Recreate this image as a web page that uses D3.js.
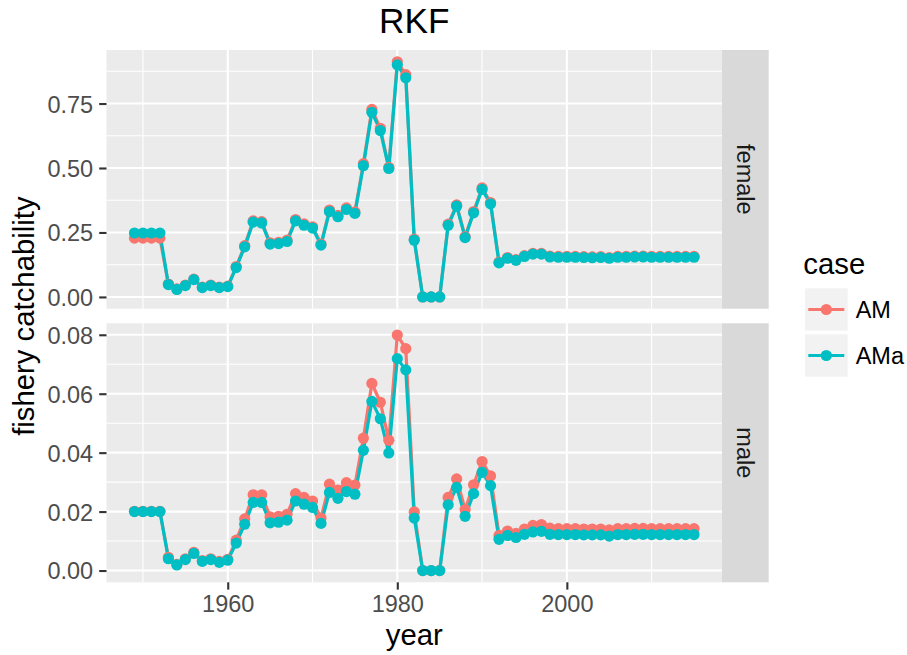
<!DOCTYPE html>
<html>
<head>
<meta charset="utf-8">
<script src="https://cdn.jsdelivr.net/npm/d3@7"></script>
<style>
  html, body { margin: 0; padding: 0; background: #fff; }
  svg { display: block; font-family: "Liberation Sans", Arial, sans-serif; }
</style>
</head>
<body>
<svg id="chart" width="907" height="655"></svg>
<script>
const years = [1949,1950,1951,1952,1953,1954,1955,1956,1957,1958,1959,1960,1961,1962,1963,1964,1965,1966,1967,1968,1969,1970,1971,1972,1973,1974,1975,1976,1977,1978,1979,1980,1981,1982,1983,1984,1985,1986,1987,1988,1989,1990,1991,1992,1993,1994,1995,1996,1997,1998,1999,2000,2001,2002,2003,2004,2005,2006,2007,2008,2009,2010,2011,2012,2013,2014,2015];

const femaleAM = [0.228,0.228,0.228,0.228,0.050,0.031,0.046,0.069,0.038,0.046,0.038,0.042,0.118,0.199,0.295,0.292,0.210,0.212,0.220,0.300,0.283,0.272,0.205,0.337,0.316,0.345,0.330,0.517,0.727,0.654,0.503,0.912,0.862,0.224,0,0,0,0.282,0.357,0.234,0.331,0.423,0.366,0.135,0.153,0.145,0.160,0.169,0.169,0.158,0.157,0.157,0.157,0.156,0.155,0.156,0.153,0.157,0.157,0.158,0.158,0.157,0.157,0.157,0.157,0.157,0.157];
const femaleAMa = [0.248,0.248,0.248,0.248,0.048,0.029,0.044,0.067,0.036,0.044,0.036,0.040,0.114,0.194,0.290,0.287,0.205,0.207,0.215,0.295,0.278,0.267,0.201,0.331,0.311,0.339,0.324,0.509,0.716,0.645,0.498,0.900,0.850,0.220,0,0,0,0.278,0.352,0.230,0.326,0.417,0.361,0.132,0.150,0.142,0.157,0.166,0.166,0.155,0.154,0.154,0.154,0.153,0.152,0.153,0.150,0.154,0.154,0.155,0.155,0.154,0.154,0.154,0.154,0.154,0.154];

const maleAM = [0.0201,0.0201,0.0201,0.0201,0.0045,0.0021,0.0040,0.0062,0.0034,0.0040,0.0031,0.0038,0.0103,0.0175,0.0257,0.0257,0.0182,0.0184,0.0191,0.0261,0.0248,0.0236,0.0178,0.0293,0.0273,0.0298,0.0290,0.0449,0.0635,0.0571,0.0442,0.0799,0.0753,0.0199,0,0,0,0.0248,0.0311,0.0207,0.0291,0.0370,0.0321,0.0119,0.0134,0.0126,0.0141,0.0153,0.0156,0.0144,0.0142,0.0142,0.0142,0.0141,0.0141,0.0141,0.0138,0.0142,0.0142,0.0143,0.0143,0.0142,0.0142,0.0142,0.0142,0.0142,0.0142];
const maleAMa = [0.0200,0.0200,0.0200,0.0200,0.0040,0.0019,0.0037,0.0058,0.0031,0.0037,0.0028,0.0035,0.0093,0.0157,0.0231,0.0231,0.0162,0.0164,0.0171,0.0236,0.0225,0.0214,0.0160,0.0265,0.0245,0.0268,0.0259,0.0408,0.0574,0.0515,0.0399,0.0719,0.0681,0.0178,0,0,0,0.0223,0.0282,0.0184,0.0261,0.0333,0.0288,0.0106,0.0119,0.0112,0.0123,0.0131,0.0133,0.0123,0.0122,0.0122,0.0122,0.0121,0.0121,0.0121,0.0117,0.0122,0.0122,0.0123,0.0123,0.0122,0.0122,0.0122,0.0122,0.0122,0.0122];

const caseNames = ["AM", "AMa"];
const caseColors = ["#F8766D", "#00BFC4"];
const facetNames = ["female", "male"];
const xTicks = [1960, 1980, 2000];
const xMinor = [1950, 1970, 1990, 2010];
const yTicksFemale = [0, 0.25, 0.5, 0.75];
const yMinorFemale = [0.125, 0.375, 0.625, 0.875];
const yTicksMale = [0, 0.02, 0.04, 0.06, 0.08];
const yMinorMale = [0.01, 0.03, 0.05, 0.07];
const yLabelsFemale = ["0.00", "0.25", "0.50", "0.75"];
const yLabelsMale = ["0.00", "0.02", "0.04", "0.06", "0.08"];

const svg = d3.select("#chart");
const L = 106.5, R = 722, stripW = 46.7;
const panels = [
  { name: facetNames[0], top: 50, bottom: 308.7, series: [femaleAM, femaleAMa], ticks: yTicksFemale, minor: yMinorFemale, labels: yLabelsFemale },
  { name: facetNames[1], top: 323.3, bottom: 582.3, series: [maleAM, maleAMa], ticks: yTicksMale, minor: yMinorMale, labels: yLabelsMale }
];

const xPad = (d3.max(years) - d3.min(years)) * 0.05;
const x = d3.scaleLinear().domain([d3.min(years) - xPad, d3.max(years) + xPad]).range([L, R]);

panels.forEach(p => {
  const all = p.series.flat();
  const lo = d3.min(all), hi = d3.max(all), pad = (hi - lo) * 0.05;
  const y = d3.scaleLinear().domain([lo - pad, hi + pad]).range([p.bottom, p.top]);
  const g = svg.append("g");
  g.append("rect").attr("x", L).attr("y", p.top).attr("width", R - L).attr("height", p.bottom - p.top).attr("fill", "#EBEBEB");
  // minor grid
  g.selectAll(".ymin").data(p.minor).enter().append("line")
    .attr("x1", L).attr("x2", R).attr("y1", d => y(d)).attr("y2", d => y(d))
    .attr("stroke", "#fff").attr("stroke-width", 1.1);
  g.selectAll(".xmin").data(xMinor).enter().append("line")
    .attr("y1", p.top).attr("y2", p.bottom).attr("x1", d => x(d)).attr("x2", d => x(d))
    .attr("stroke", "#fff").attr("stroke-width", 1.1);
  // major grid
  g.selectAll(".ymaj").data(p.ticks).enter().append("line")
    .attr("x1", L).attr("x2", R).attr("y1", d => y(d)).attr("y2", d => y(d))
    .attr("stroke", "#fff").attr("stroke-width", 2.1);
  g.selectAll(".xmaj").data(xTicks).enter().append("line")
    .attr("y1", p.top).attr("y2", p.bottom).attr("x1", d => x(d)).attr("x2", d => x(d))
    .attr("stroke", "#fff").attr("stroke-width", 2.1);
  // y axis
  const yAxis = d3.axisLeft(y).tickValues(p.ticks).tickFormat((d, i) => p.labels[i]).tickSize(7.3).tickPadding(6);
  const ya = svg.append("g").attr("transform", `translate(${L},0)`).call(yAxis);
  ya.select(".domain").remove();
  ya.selectAll("line").attr("stroke", "#333333").attr("stroke-width", 2.1);
  ya.selectAll("text").attr("fill", "#4D4D4D").style("font-size", "23.5px").style("font-family", "Liberation Sans, Arial, sans-serif").attr("dy", "0.36em");
  // lines
  const line = d3.line().x((d, i) => x(years[i])).y(d => y(d));
  p.series.forEach((s, k) => {
    g.append("path").datum(s).attr("d", line).attr("fill", "none")
      .attr("stroke", caseColors[k]).attr("stroke-width", 3.2).attr("stroke-linejoin", "round");
  });
  p.series.forEach((s, k) => {
    g.selectAll(".pt" + k).data(s).enter().append("circle")
      .attr("cx", (d, i) => x(years[i])).attr("cy", d => y(d)).attr("r", 5.6)
      .attr("fill", caseColors[k]);
  });
  // strip
  svg.append("rect").attr("x", R).attr("y", p.top).attr("width", stripW).attr("height", p.bottom - p.top).attr("fill", "#D9D9D9");
  const cy = (p.top + p.bottom) / 2, cx = R + stripW / 2;
  svg.append("text").attr("transform", `translate(${cx},${cy}) rotate(90)`)
    .attr("text-anchor", "middle").attr("dy", "0.35em").attr("fill", "#1A1A1A")
    .style("font-size", "23.5px").text(p.name);
});

// x axis
const xAxis = d3.axisBottom(x).tickValues(xTicks).tickFormat(d3.format("d")).tickSize(7.3).tickPadding(5.9);
const xa = svg.append("g").attr("transform", `translate(0,${panels[1].bottom})`).call(xAxis);
xa.select(".domain").remove();
xa.selectAll("line").attr("stroke", "#333333").attr("stroke-width", 2.1);
xa.selectAll("text").attr("fill", "#4D4D4D").style("font-size", "23.5px").style("font-family", "Liberation Sans, Arial, sans-serif").attr("dy", "0.72em");

// titles
svg.append("text").attr("x", (L + R) / 2).attr("y", 33.3).attr("text-anchor", "middle")
  .style("font-size", "35.2px").attr("fill", "#000").text("RKF");
svg.append("text").attr("x", (L + R) / 2).attr("y", 644.5).attr("text-anchor", "middle")
  .style("font-size", "29.3px").attr("fill", "#000").text("year");
svg.append("text").attr("transform", `translate(34,${(panels[0].top + panels[1].bottom) / 2}) rotate(-90)`)
  .attr("text-anchor", "middle").style("font-size", "29.3px").attr("fill", "#000").text("fishery catchability");

// legend
const lg = svg.append("g");
lg.append("text").attr("x", 803.3).attr("y", 274).style("font-size", "29.3px").attr("fill", "#000").text("case");
caseNames.forEach((nm, k) => {
  const top = 288.3 + k * 46;
  lg.append("rect").attr("x", 805).attr("y", top).attr("width", 42.7).attr("height", 42.4).attr("fill", "#F2F2F2");
  const c = top + 21.2;
  lg.append("line").attr("x1", 808.3).attr("x2", 844.3).attr("y1", c).attr("y2", c)
    .attr("stroke", caseColors[k]).attr("stroke-width", 3.2);
  lg.append("circle").attr("cx", 826.3).attr("cy", c).attr("r", 5.6).attr("fill", caseColors[k]);
  lg.append("text").attr("x", 855.7).attr("y", c).attr("dy", "0.36em").style("font-size", "23.5px").attr("fill", "#000").text(nm);
});
</script>
</body>
</html>
